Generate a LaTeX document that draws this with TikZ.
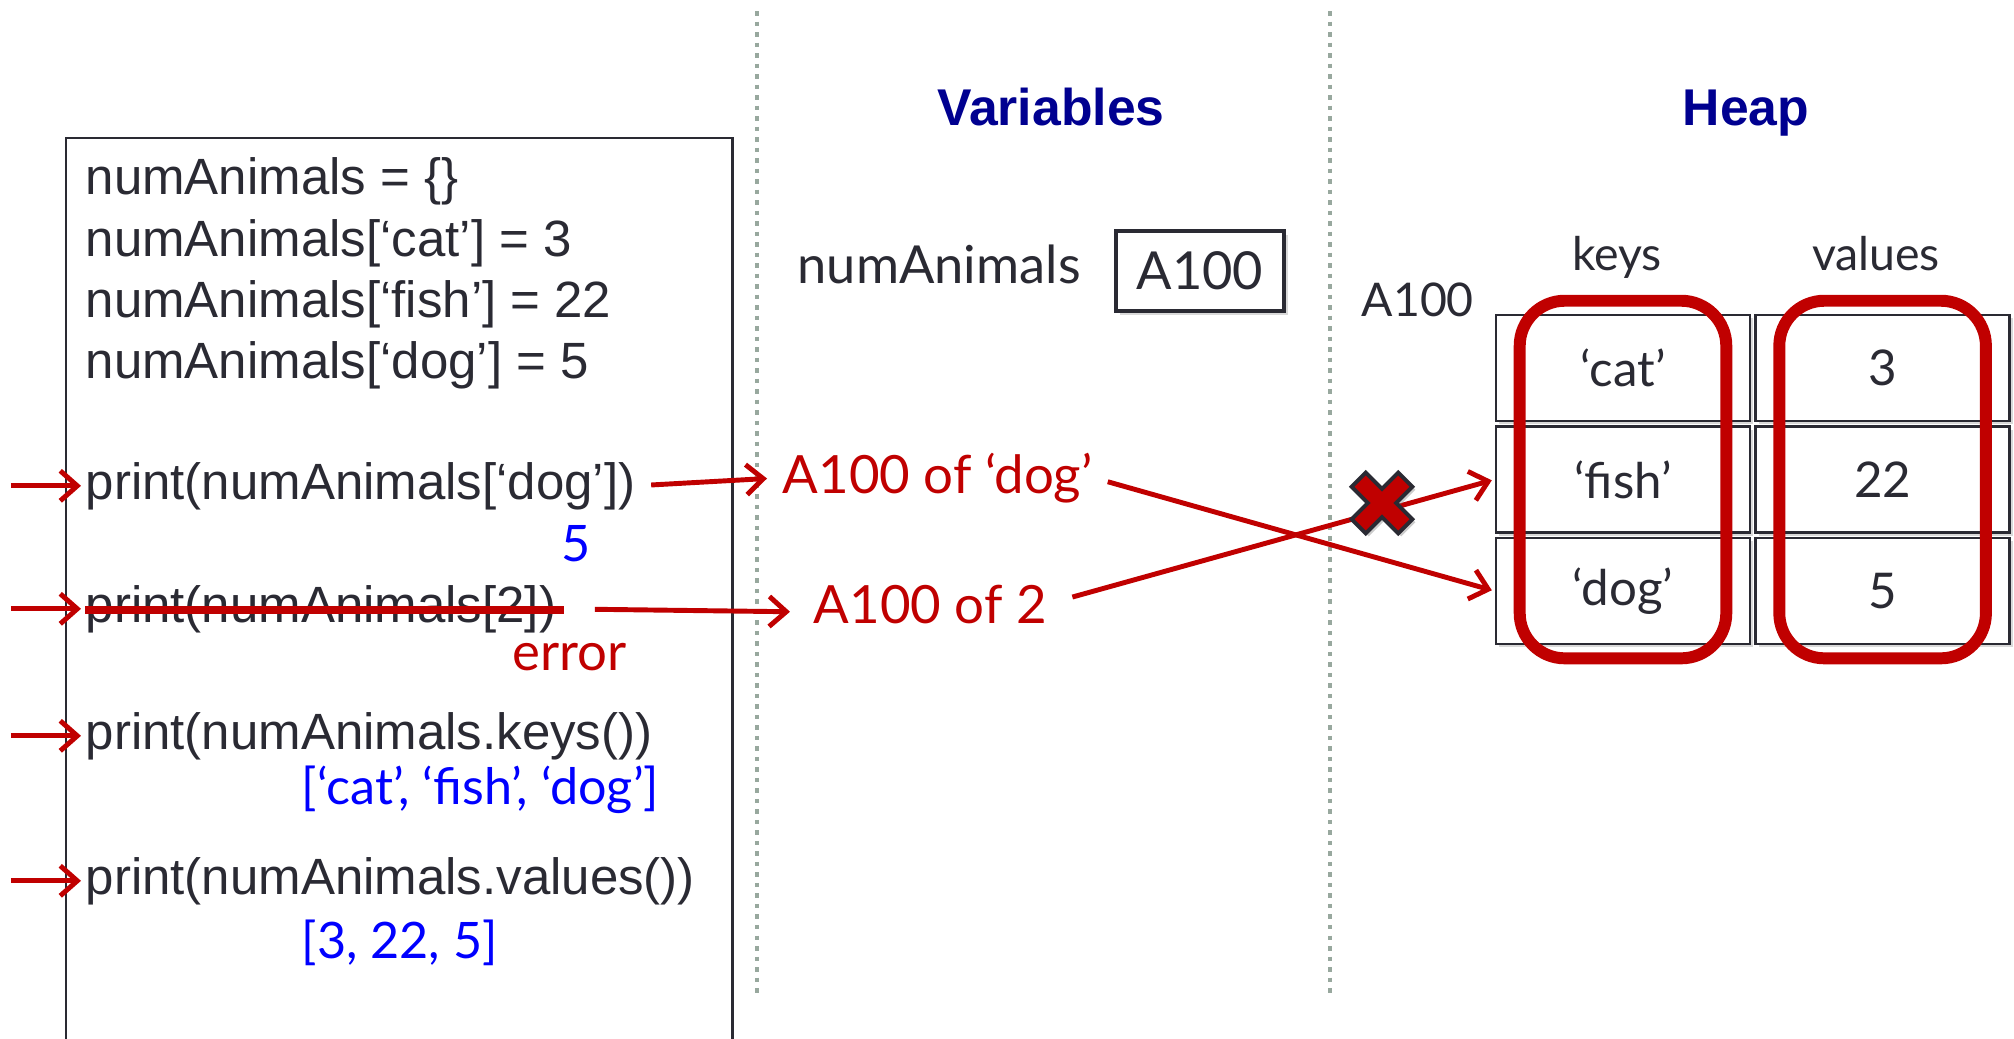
\documentclass[tikz,border=0pt]{standalone}
\usepackage{fontspec}
\setmainfont{Lato}
\newfontfamily\codefont{Liberation Sans}
\usepackage{tikz}
\usetikzlibrary{ positioning, arrows.meta, fit, shadows }
\definecolor{ink}{HTML}{2A2A33}
\definecolor{errred}{HTML}{C00000}
\definecolor{outblue}{HTML}{0000FF}
\definecolor{headnavy}{HTML}{000090}
\definecolor{divgrey}{HTML}{98A89E}

\begin{document}
\begin{tikzpicture}[
  x=0.01cm, y=-0.01cm,
  node distance=0.03cm and 0.03cm,
  code/.style={anchor=base west, inner sep=0pt, text=ink,
               font=\codefont\fontsize{14.5}{17}\selectfont},
  outval/.style={inner sep=0pt, text=outblue, font=\fontsize{14.3}{17}\selectfont},
  lbl/.style={inner sep=0pt, text=errred, font=\fontsize{15}{18}\selectfont},
  head/.style={anchor=base, inner sep=0pt, text=headnavy,
               font=\codefont\bfseries\fontsize{14.7}{17}\selectfont},
  plaintxt/.style={inner sep=0pt, text=ink, font=\fontsize{13.2}{16}\selectfont},
  cell/.style={draw=ink, line width=0.7pt, fill=white, minimum width=2.54cm,
               minimum height=1.06cm, inner sep=0pt, text=ink,
               font=\fontsize{14}{16}\selectfont,
               drop shadow={shadow xshift=0.03cm, shadow yshift=-0.03cm, opacity=0.3}},
  ring/.style={draw=errred, line width=3.4pt, rounded corners=0.45cm,
               inner xsep=-0.25cm, inner ysep=0.13cm},
  ar/.style={draw=errred, line width=1.4pt, -{Straight Barb[length=0.17cm, width=0.3cm]}},
  divider/.style={divgrey, line width=1.3pt, dash pattern=on 0.045cm off 0.06cm},
  xmark/.style={fill=errred, draw=ink, line width=1.1pt,
                drop shadow={shadow xshift=0.03cm, shadow yshift=-0.03cm, opacity=0.4}},
]
  \useasboundingbox (0,0) rectangle (2014,1039);

  % column dividers
  \coordinate (d1top) at (757,11);
  \coordinate (d1bot) at (757,998);
  \coordinate (d2top) at (1330,11);
  \coordinate (d2bot) at (1330,998);
  \draw[divider] (d1top) -- (d1bot);
  \draw[divider] (d2top) -- (d2bot);

  % program
  \node[draw=ink, line width=0.7pt, anchor=north west, minimum width=6.66cm,
        minimum height=9.5cm, inner sep=0pt] (codebox) at (65,137) {};
  \node[code] (l1) at (85,194) {numAnimals = \{\}};
  \node[code] (l2) at (85,256) {numAnimals[‘cat’] = 3};
  \node[code] (l3) at (85,317) {numAnimals[‘fish’] = 22};
  \node[code] (l4) at (85,378) {numAnimals[‘dog’] = 5};
  \node[code] (pdog) at (85,499) {print(numAnimals[‘dog’])};
  \node[code] (pnum) at (85,622) {print(numAnimals[2])};
  \node[code] (pkeys) at (85,749) {print(numAnimals.keys())};
  \node[code] (pvals) at (85,894) {print(numAnimals.values())};

  \node[outval, anchor=base] (o5) at (576,561) {5};
  \node[lbl, anchor=base west] (err) at (512,670) {error};
  \node[outval, anchor=base west] (okeys) at (301,804) {[‘cat’, ‘fish’, ‘dog’]};
  \node[outval, anchor=base west] (ovals) at (301,958) {[3, 22, 5]};

  \draw[errred, line width=2pt]
    ([yshift=0.12cm]pnum.base west) -- ([yshift=0.12cm, xshift=0.07cm]pnum.base east);

  % variables
  \node[head] (vars) at (1051,125) {Variables};
  \node[plaintxt, anchor=base west, font=\fontsize{14.9}{17}\selectfont] (varname) at (797,283) {numAnimals};
  \node[draw=ink, line width=0.9pt, fill=white, minimum width=1.68cm, minimum height=0.8cm,
        inner sep=0pt, text=ink, font=\fontsize{14.9}{17}\selectfont,
        drop shadow={shadow xshift=0.04cm, shadow yshift=-0.04cm, opacity=0.3}] (varbox) at (1200,271) {A100};

  \node[lbl, anchor=base west] (adog) at (782,493) {A100 of ‘dog’};
  \node[lbl, anchor=base west] (atwo) at (813,623) {A100 of 2};

  % heap
  \node[head] (heap) at (1746,125) {Heap};
  \node[plaintxt, anchor=base west] (haddr) at (1361,316) {A100};
  \node[plaintxt, anchor=base] (keyslbl) at (1617,270) {keys};
  \node[plaintxt, anchor=base] (valslbl) at (1876,270) {values};

  \node[cell] (kcat) at (1623,368) {‘cat’};
  \node[cell, below=of kcat] (kfish) {‘fish’};
  \node[cell, below=of kfish] (kdog) {‘dog’};
  \node[cell, right=of kcat] (vcat) {3};
  \node[cell, right=of kfish] (vfish) {22};
  \node[cell, right=of kdog] (vdog) {5};

  \node[ring, fit=(kcat)(kdog)] (keyring) {};
  \node[ring, fit=(vcat)(vdog)] (valring) {};

  % arrows
  \coordinate (in1) at ([xshift=-0.74cm]pdog.west);
  \coordinate (in2) at ([xshift=-0.74cm]pnum.west);
  \coordinate (in3) at ([xshift=-0.74cm]pkeys.west);
  \coordinate (in4) at ([xshift=-0.74cm]pvals.west);
  \draw[ar, shorten >=0.04cm] (in1) -- (pdog.west);
  \draw[ar, shorten >=0.04cm] (in2) -- (pnum.west);
  \draw[ar, shorten >=0.04cm] (in3) -- (pkeys.west);
  \draw[ar, shorten >=0.04cm] (in4) -- (pvals.west);

  \draw[ar, shorten <=0.15cm, shorten >=0.15cm] (pdog.east) -- (adog.west);
  \draw[ar, shorten <=0.38cm, shorten >=0.23cm] (pnum.east) -- ([yshift=-0.08cm]atwo.west);
  \draw[ar, shorten <=0.15cm, shorten >=0.03cm] (adog.east) -- (kdog.west);
  \draw[ar, shorten <=0.26cm, shorten >=0.03cm] (atwo.east) -- (kfish.west);

  % the cross
  \begin{scope}[shift={(1382,503)}, rotate=45]
    \draw[xmark] (10,33) -- (10,10) -- (33,10) -- (33,-10) -- (10,-10) -- (10,-33)
      -- (-10,-33) -- (-10,-10) -- (-33,-10) -- (-33,10) -- (-10,10) -- (-10,33) -- cycle;
  \end{scope}
\end{tikzpicture}
\end{document}
